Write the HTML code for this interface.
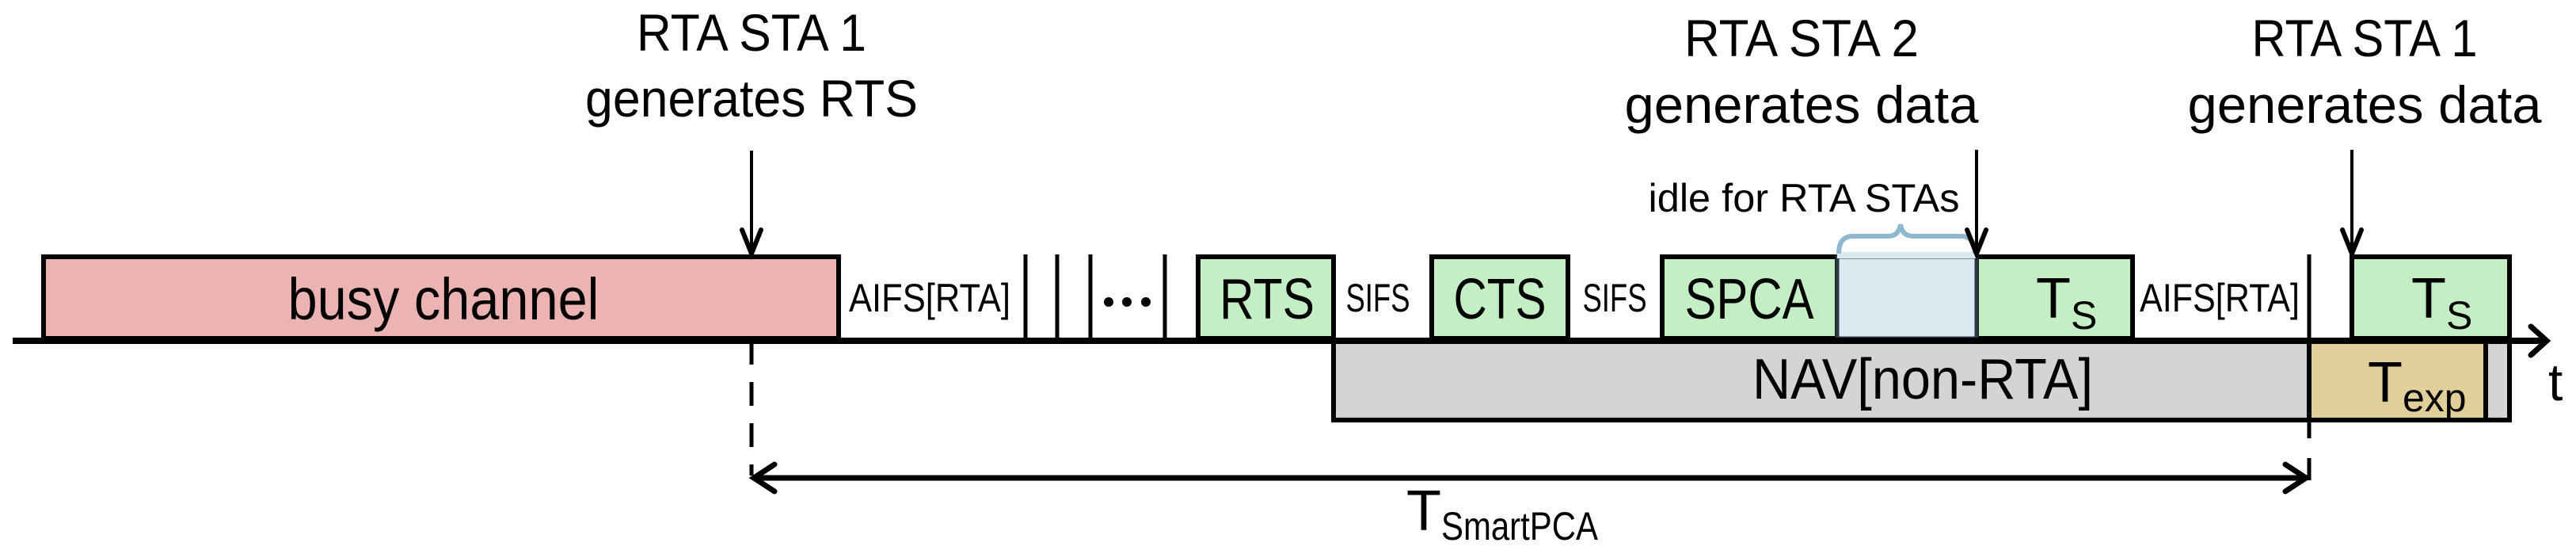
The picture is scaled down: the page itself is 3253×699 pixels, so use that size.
<!DOCTYPE html>
<html><head><meta charset="utf-8"><style>html,body{margin:0;padding:0;background:#fff}svg{display:block}</style></head>
<body>
<svg width="3253" height="699" viewBox="0 0 3253 699" xmlns="http://www.w3.org/2000/svg" font-family="Liberation Sans, sans-serif">
<g stroke="#000" stroke-width="6">
<rect x="55" y="324" width="1004" height="103" fill="#ebb4b3"/>
<rect x="1513" y="324" width="171" height="103" fill="#c4efc4"/>
<rect x="1808" y="324" width="172" height="103" fill="#c4efc4"/>
<rect x="2099" y="324" width="221" height="103" fill="#c4efc4"/>
<rect x="2496" y="324" width="197" height="103" fill="#c4efc4"/>
<rect x="2970" y="324" width="199" height="103" fill="#c4efc4"/>
<rect x="1684" y="430" width="1485" height="100" fill="#d4d4d4"/>
<rect x="2916" y="430" width="223" height="100" fill="#e0cf98"/>
</g>
<rect x="2320" y="324" width="176" height="103" fill="#dce9f0" stroke="#2a3a44" stroke-width="5"/>
<rect x="2320" y="318" width="176" height="8" fill="#dce9f0"/>
<path d="M2322 320 Q2322 298 2340 298 L2384 298 Q2398 298 2400 283 Q2402 298 2416 298 L2476 298 Q2494 298 2494 320" fill="none" stroke="#8fb8d0" stroke-width="6"/>
<g stroke="#000" stroke-width="5">
<line x1="1295" y1="321" x2="1295" y2="427"/>
<line x1="1335" y1="321" x2="1335" y2="427"/>
<line x1="1377" y1="321" x2="1377" y2="427"/>
<line x1="1471" y1="321" x2="1471" y2="427"/>
<line x1="2916" y1="321" x2="2916" y2="553"/>
<line x1="2916" y1="578" x2="2916" y2="606"/>
<line x1="949" y1="430" x2="949" y2="600" stroke-dasharray="30,22"/>
<line x1="949" y1="190" x2="949" y2="320" stroke-width="4"/>
<line x1="2496" y1="189" x2="2496" y2="320" stroke-width="4"/>
<line x1="2970" y1="189" x2="2970" y2="320" stroke-width="4"/>
</g>
<g fill="none" stroke="#000" stroke-width="6" stroke-linecap="round">
<path d="M937 290 L949 320 L961 290"/>
<path d="M2484 290 L2496 320 L2508 290"/>
<path d="M2958 290 L2970 320 L2982 290"/>
</g>
<line x1="16" y1="430" x2="3212" y2="430" stroke="#000" stroke-width="8"/>
<path d="M3196 412 L3216 430 L3196 448" fill="none" stroke="#000" stroke-width="7" stroke-linecap="round"/>
<line x1="952" y1="603" x2="2912" y2="603" stroke="#000" stroke-width="7"/>
<path d="M978 586 L952 603 L978 620" fill="none" stroke="#000" stroke-width="7" stroke-linecap="round"/>
<path d="M2886 586 L2912 603 L2886 620" fill="none" stroke="#000" stroke-width="7" stroke-linecap="round"/>
<g fill="#000">
<circle cx="1400" cy="381" r="6"/><circle cx="1423" cy="381" r="6"/><circle cx="1447" cy="381" r="6"/>
</g>
<g fill="#000" text-anchor="middle">
<text x="949" y="64" font-size="66" textLength="290" lengthAdjust="spacingAndGlyphs">RTA STA 1</text>
<text x="949" y="147" font-size="66" textLength="420" lengthAdjust="spacingAndGlyphs">generates RTS</text>
<text x="2275" y="71" font-size="66" textLength="296" lengthAdjust="spacingAndGlyphs">RTA STA 2</text>
<text x="2275" y="155" font-size="66" textLength="447" lengthAdjust="spacingAndGlyphs">generates data</text>
<text x="2986" y="71" font-size="66" textLength="285" lengthAdjust="spacingAndGlyphs">RTA STA 1</text>
<text x="2986" y="155" font-size="66" textLength="447" lengthAdjust="spacingAndGlyphs">generates data</text>
<text x="2278" y="267" font-size="50" textLength="393" lengthAdjust="spacingAndGlyphs">idle for RTA STAs</text>
<text x="560" y="403" font-size="74" textLength="393" lengthAdjust="spacingAndGlyphs">busy channel</text>
<text x="1174" y="393" font-size="50" textLength="204" lengthAdjust="spacingAndGlyphs">AIFS[RTA]</text>
<text x="2803" y="393" font-size="50" textLength="202" lengthAdjust="spacingAndGlyphs">AIFS[RTA]</text>
<text x="1740" y="393" font-size="50" textLength="81" lengthAdjust="spacingAndGlyphs">SIFS</text>
<text x="2039" y="393" font-size="50" textLength="81" lengthAdjust="spacingAndGlyphs">SIFS</text>
<text x="1600" y="402" font-size="72" textLength="120" lengthAdjust="spacingAndGlyphs">RTS</text>
<text x="1894" y="402" font-size="72" textLength="117" lengthAdjust="spacingAndGlyphs">CTS</text>
<text x="2209" y="402" font-size="72" textLength="163" lengthAdjust="spacingAndGlyphs">SPCA</text>
<text x="2428" y="503" font-size="72" textLength="430" lengthAdjust="spacingAndGlyphs">NAV[non-RTA]</text>
</g>
<g fill="#000">
<text x="2571" y="401" font-size="72">T<tspan font-size="50" dy="14">S</tspan></text>
<text x="3045" y="401" font-size="72">T<tspan font-size="50" dy="14">S</tspan></text>
<text x="2990" y="507" font-size="72">T<tspan font-size="50" dy="12">exp</tspan></text>
<text x="3218" y="505" font-size="66">t</text>
<text x="1776" y="669" font-size="72">T<tspan font-size="50" dy="12" textLength="198" lengthAdjust="spacingAndGlyphs">SmartPCA</tspan></text>
</g>
</svg>
</body></html>
